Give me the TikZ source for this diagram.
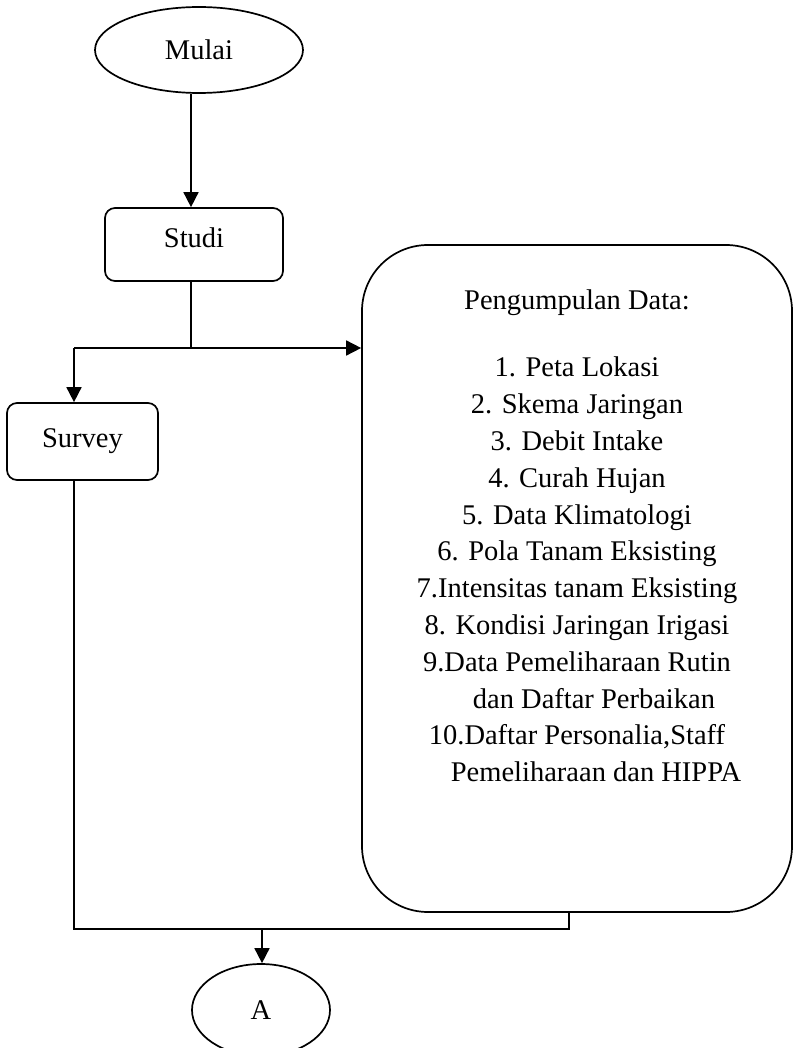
\documentclass[tikz,border=0pt]{standalone}
\usepackage{fontspec}
\setmainfont{Liberation Serif}
\usetikzlibrary{shapes.geometric,arrows.meta}
\tikzset{
  base/.style={draw=black,line width=1.7pt,inner sep=0pt,font=\fontsize{28.5}{36.8}\selectfont},
  term/.style={base,ellipse},
  procbox/.style={base,rectangle,rounded corners=10pt},
  bigbox/.style={base,rectangle,rounded corners=66pt},
  txt/.style={inner sep=0pt,align=center,font=\fontsize{28.5}{36.8}\selectfont},
  conn/.style={line width=1.7pt},
  arr/.style={conn,-{Triangle[length=15pt,width=15pt]}}
}
\begin{document}
\begin{tikzpicture}[x=1pt,y=-1pt]
\useasboundingbox (0,0) rectangle (793,1048);
\node[term,minimum width=208pt,minimum height=86pt] (mulai) at (199,50) {Mulai};
\node[procbox,minimum width=178pt,minimum height=73pt,text depth=14pt] (studi) at (194,244.5) {Studi};
\node[procbox,minimum width=151pt,minimum height=77pt] (survey) at (82.5,441.5) {Survey};
\node[bigbox,minimum width=430pt,minimum height=667pt] (dbox) at (577,578.5) {};
\node[txt,anchor=north] (dtext) at (577,290) {Pengumpulan Data:\\[30.2pt]
1. Peta Lokasi\\
2. Skema Jaringan\\
3. Debit Intake\\
4. Curah Hujan\\
5. Data Klimatologi\\
6. Pola Tanam Eksisting\\
7.Intensitas tanam Eksisting\\
8. Kondisi Jaringan Irigasi\\
9.Data Pemeliharaan Rutin\\
\hspace*{34pt}dan Daftar Perbaikan\\
10.Daftar Personalia,Staff\\
\hspace*{38pt}Pemeliharaan dan HIPPA};
\node[term,minimum width=138pt,minimum height=92pt] (a) at (261,1010) {A};
\coordinate (j1) at (191,348);
\coordinate (j2) at (74,348);
\coordinate (j3) at (74,929);
\coordinate (j4) at (569,929);
\coordinate (j5) at (262,929);
\draw[arr] (mulai.south -| j1) -- (studi.north -| j1);
\draw[conn] (studi.south -| j1) -- (j1);
\draw[arr] (j1) -- (dbox.west |- j1);
\draw[conn] (j1) -- (j2);
\draw[arr] (j2) -- (survey.north -| j2);
\draw[conn] (survey.south -| j3) -- (j3) -- (j4) -- (dbox.south -| j4);
\draw[arr] (j5) -- (a.north -| j5);
\end{tikzpicture}
\end{document}
